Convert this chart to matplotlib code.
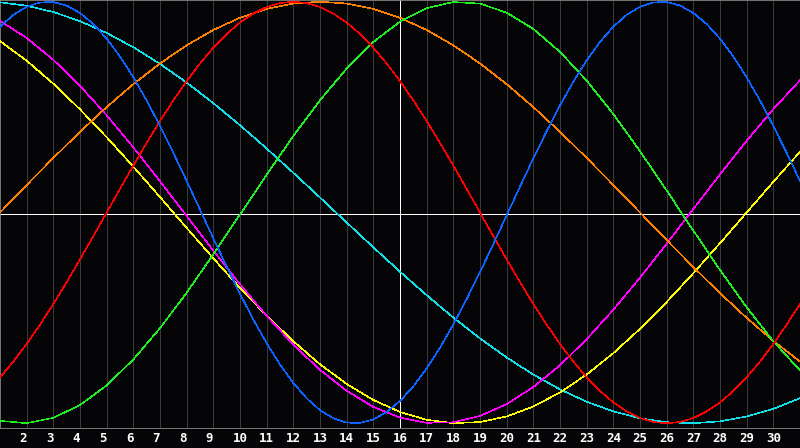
import matplotlib
matplotlib.use("Agg")
import matplotlib.pyplot as plt

# ---- data ----
days = list(range(1, 32))
half_days = [1 + 0.5 * i for i in range(61)]
tick_days = list(range(2, 31))
tick_labels = [str(d) for d in tick_days]
today = 16

# fast cycles read every half day
physical = [0.8815, 0.9377, 0.9762, 0.9967, 0.9985, 0.9818, 0.9468, 0.8941,
            0.8248, 0.7400, 0.6417, 0.5311, 0.4109, 0.2828, 0.1497, 0.0136,
            -0.1227, -0.2566, -0.3859, -0.5080, -0.6204, -0.7215, -0.8090,
            -0.8815, -0.9377, -0.9762, -0.9967, -0.9985, -0.9817, -0.9467,
            -0.8941, -0.8248, -0.7400, -0.6417, -0.5311, -0.4109, -0.2828,
            -0.1495, -0.0136, 0.1227, 0.2566, 0.3859, 0.5080, 0.6205,
            0.7215, 0.8090, 0.8815, 0.9377, 0.9762, 0.9967, 0.9985, 0.9818,
            0.9467, 0.8941, 0.8248, 0.7400, 0.6417, 0.5311, 0.4108, 0.2828,
            0.1495]
emotional = [-0.7818, -0.7071, -0.6235, -0.5320, -0.4339, -0.3303, -0.2225,
             -0.1120, 0.0, 0.1120, 0.2225, 0.3303, 0.4339, 0.5320, 0.6235,
             0.7071, 0.7818, 0.8467, 0.9010, 0.9439, 0.9749, 0.9937, 1.0,
             0.9937, 0.9749, 0.9439, 0.9010, 0.8467, 0.7818, 0.7071, 0.6235,
             0.5320, 0.4339, 0.3303, 0.2225, 0.1120, 0.0, -0.1120, -0.2225,
             -0.3303, -0.4339, -0.5320, -0.6235, -0.7071, -0.7818, -0.8467,
             -0.9010, -0.9439, -0.9749, -0.9937, -1.0, -0.9937, -0.9749,
             -0.9439, -0.9010, -0.8467, -0.7818, -0.7071, -0.6235, -0.5320,
             -0.4339]

# slower cycles read every day
intellectual = [-0.9884, -0.9993, -0.9740, -0.9135, -0.8201, -0.6970, -0.5486,
                -0.3804, -0.1985, -0.0095, 0.1798, 0.3628, 0.5326, 0.6831,
                0.8090, 0.9056, 0.9695, 0.9984, 0.9911, 0.9481, 0.8708,
                0.7620, 0.6257, 0.4667, 0.2909, 0.1045, -0.0856, -0.2726,
                -0.4498, -0.6107, -0.7495]
awareness = [0.0, 0.1305, 0.2588, 0.3827, 0.5, 0.6088, 0.7071, 0.7934, 0.8660,
             0.9239, 0.9659, 0.9914, 1.0, 0.9914, 0.9659, 0.9239, 0.8660,
             0.7934, 0.7071, 0.6088, 0.5, 0.3827, 0.2588, 0.1305, 0.0,
             -0.1305, -0.2588, -0.3827, -0.5, -0.6088, -0.7071]
spiritual = [0.9970, 0.9809, 0.9511, 0.9078, 0.8518, 0.7839, 0.7050, 0.6162,
             0.5187, 0.4139, 0.3034, 0.1885, 0.0711, -0.0474, -0.1652,
             -0.2807, -0.3922, -0.4983, -0.5973, -0.6880, -0.7690, -0.8392,
             -0.8977, -0.9435, -0.9761, -0.9949, -0.9998, -0.9907, -0.9677,
             -0.9311, -0.8813]
intuitive = [0.9090, 0.8281, 0.7244, 0.6011, 0.4613, 0.3090, 0.1483, -0.0166,
             -0.1808, -0.3404, -0.4905, -0.6273, -0.7468, -0.8461, -0.9223,
             -0.9734, -0.9978, -0.9951, -0.9652, -0.9090, -0.8281, -0.7244,
             -0.6011, -0.4613, -0.3090, -0.1483, 0.0166, 0.1808, 0.3404,
             0.4905, 0.6273]
aesthetic = [0.8133, 0.7199, 0.6111, 0.4894, 0.3573, 0.2174, 0.0731, -0.0731,
             -0.2174, -0.3573, -0.4894, -0.6111, -0.7199, -0.8133, -0.8893,
             -0.9464, -0.9834, -0.9993, -0.9940, -0.9675, -0.9204, -0.8535,
             -0.7686, -0.6673, -0.5518, -0.4245, -0.2880, -0.1456, 0.0,
             0.1456, 0.2880]

# ---- styling ----
BG = "#050508"
series = [
    (days, spiritual, "#10e0e8"),
    (days, aesthetic, "#ffff00"),
    (days, intuitive, "#ff00ff"),
    (days, awareness, "#ff8000"),
    (days, intellectual, "#20f020"),
    (half_days, emotional, "#ff0000"),
    (half_days, physical, "#0a64ff"),
]

fig = plt.figure(figsize=(8, 4.48), dpi=100, facecolor=BG)
ax = fig.add_axes([0, 20 / 448, 1, 428 / 448])
ax.set_facecolor(BG)

ax.set_xlim(1, 31)
ax.set_ylim(-1.0223, 1.0081)

ax.set_xticks(tick_days, tick_labels)
ax.set_yticks([])
ax.grid(axis="x", color="#3a3a3a", linewidth=0.4, antialiased=False)
ax.set_axisbelow(True)
ax.tick_params(axis="x", length=0, pad=3, colors="white", labelsize=9)
for lab in ax.get_xticklabels():
    lab.set_fontfamily("DejaVu Sans Mono")
    lab.set_fontweight("bold")
    lab.set_ha("right" if len(lab.get_text()) == 1 else "center")

ax.spines["right"].set_visible(False)
for name in ("left", "top"):
    ax.spines[name].set_color("#8a8a8a")
    ax.spines[name].set_linewidth(1.2)
ax.spines["bottom"].set_color("#a8a8a8")
ax.spines["bottom"].set_linewidth(0.5)

# centre line and today line
ax.plot([0, 1], [0.5, 0.5], transform=ax.transAxes, color="white",
        linewidth=0.4, antialiased=False, zorder=2)
ax.axvline(today, color="white", linewidth=0.4, antialiased=False, zorder=2)

for xs, values, color in series:
    ax.plot(xs, values, color=color, linewidth=0.4, antialiased=False,
            zorder=3)

fig.savefig("out.png", dpi=100, facecolor=BG)
